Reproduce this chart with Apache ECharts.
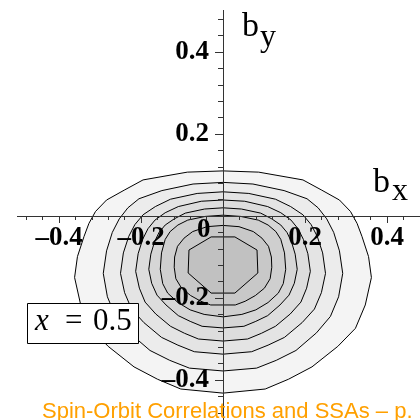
<!DOCTYPE html>
<html>
<head>
<meta charset="utf-8">
<script src="https://cdn.jsdelivr.net/npm/echarts@6/dist/echarts.min.js"></script>
<style>
  html, body { margin: 0; padding: 0; background: #fff; }
  #chart { width: 420px; height: 420px; }
</style>
</head>
<body>
<div id="chart"></div>
<script>
// Transverse impact-parameter density at x = 0.5: eight contour levels,
// each given as its right half [b_x, b_y], from the top crossing of the
// b_y axis down to the bottom crossing. The contours are mirror-symmetric in b_x.
const contour1 = [[0, 0.110], [0.087, 0.107], [0.195, 0.088], [0.241, 0.063], [0.284, 0.039], [0.311, 0.011], [0.327, -0.018], [0.339, -0.050], [0.355, -0.099], [0.362, -0.150], [0.347, -0.217], [0.323, -0.274], [0.280, -0.318], [0.217, -0.368], [0.160, -0.398], [0.103, -0.422], [0, -0.432]];
const contour2 = [[0, 0.082], [0.073, 0.078], [0.149, 0.062], [0.205, 0.042], [0.232, 0.020], [0.253, -0.007], [0.270, -0.040], [0.284, -0.085], [0.292, -0.140], [0.282, -0.197], [0.262, -0.245], [0.228, -0.285], [0.178, -0.328], [0.130, -0.352], [0.082, -0.371], [0, -0.378]];
const contour3 = [[0, 0.059], [0.063, 0.055], [0.128, 0.041], [0.165, 0.023], [0.195, 0.003], [0.215, -0.021], [0.230, -0.050], [0.243, -0.090], [0.250, -0.140], [0.240, -0.187], [0.223, -0.227], [0.193, -0.260], [0.150, -0.296], [0.110, -0.315], [0.070, -0.331], [0, -0.337]];
const contour4 = [[0, 0.039], [0.053, 0.036], [0.109, 0.023], [0.141, 0.008], [0.166, -0.010], [0.183, -0.031], [0.196, -0.057], [0.207, -0.092], [0.213, -0.135], [0.204, -0.176], [0.190, -0.210], [0.164, -0.239], [0.128, -0.269], [0.094, -0.286], [0.060, -0.300], [0, -0.305]];
const contour5 = [[0, 0.020], [0.045, 0.017], [0.092, 0.007], [0.119, -0.007], [0.141, -0.022], [0.156, -0.040], [0.167, -0.063], [0.176, -0.093], [0.181, -0.130], [0.174, -0.164], [0.161, -0.193], [0.139, -0.217], [0.109, -0.243], [0.080, -0.257], [0.051, -0.269], [0, -0.273]];
const contour6 = [[0, 0.002], [0.043, -0.001], [0.086, -0.010], [0.110, -0.022], [0.129, -0.038], [0.141, -0.057], [0.150, -0.090], [0.153, -0.130], [0.147, -0.165], [0.135, -0.188], [0.110, -0.211], [0.080, -0.229], [0.046, -0.240], [0, -0.246]];
const contour7 = [[0, -0.023], [0.039, -0.026], [0.074, -0.038], [0.095, -0.054], [0.111, -0.074], [0.118, -0.100], [0.119, -0.125], [0.115, -0.153], [0.101, -0.176], [0.079, -0.194], [0.054, -0.208], [0.030, -0.217], [0, -0.217]];
const contour8 = [[0, -0.051], [0.029, -0.051], [0.083, -0.083], [0.085, -0.139], [0.029, -0.188], [0, -0.188]];

const contours = [contour1, contour2, contour3, contour4, contour5, contour6, contour7, contour8];
// Gray shade filling each level, lightest outside
const levelShades = ['#f4f4f4', '#ececec', '#e4e4e4', '#dddddd', '#d6d6d6', '#cfcfcf', '#c8c8c8', '#c1c1c1'];

// Axis ticks: labelled every 0.2, minor every 0.04
const axisMin = -0.6, axisMax = 0.6, majorStep = 0.2, minorSplit = 5;

const labelFont = 'Liberation Serif';
const fmt = v => {
  v = Number(v);
  if (Math.abs(v) < 1e-9 || Math.abs(v) > 0.5) return '';
  return (Math.round(v * 10) / 10).toFixed(1).replace('-', '\u2013');
};

// Full closed outline of a level: right half then mirrored left half
function outline(half) {
  const pts = half.slice();
  for (let i = half.length - 1; i >= 0; i--) {
    if (half[i][0] !== 0) pts.push([-half[i][0], half[i][1]]);
  }
  return pts;
}

const axisColor = '#333';
// Plot area: b = 0 sits at (223, 216), 410 px per unit
const gridLeft = -23, gridTop = -30, gridSize = 492;
const zeroShift = -gridSize / 2;   // moves each axis from the grid edge onto b = 0

const chart = echarts.init(document.getElementById('chart'), null, { renderer: 'canvas' });
chart.setOption({
  animation: false,
  backgroundColor: '#fff',
  grid: { left: gridLeft, top: gridTop, width: gridSize, height: gridSize, containLabel: false, outerBoundsMode: 'none' },
  xAxis: {
    type: 'value', min: axisMin, max: axisMax, interval: majorStep, z: 5,
    position: 'bottom', offset: zeroShift,
    axisLine: { onZero: false, lineStyle: { color: axisColor, width: 1 } },
    axisTick: { show: true, length: 7, lineStyle: { color: axisColor } },
    minorTick: { show: true, splitNumber: minorSplit, length: 4, lineStyle: { color: axisColor } },
    splitLine: { show: false }, minorSplitLine: { show: false },
    axisLabel: { formatter: fmt, fontFamily: labelFont, fontWeight: 'bold', fontSize: 27, color: '#000', margin: 9, lineHeight: 27, hideOverlap: false }
  },
  yAxis: {
    type: 'value', min: axisMin, max: axisMax, interval: majorStep, z: 5,
    position: 'left', offset: zeroShift,
    axisLine: { onZero: false, lineStyle: { color: axisColor, width: 1 } },
    axisTick: { show: true, length: 8, lineStyle: { color: axisColor } },
    minorTick: { show: true, splitNumber: minorSplit, length: 5, lineStyle: { color: axisColor } },
    splitLine: { show: false }, minorSplitLine: { show: false },
    axisLabel: { formatter: fmt, fontFamily: labelFont, fontWeight: 'bold', fontSize: 27, color: '#000', margin: 14, lineHeight: 27, padding: [5, 0, 0, 0], hideOverlap: false }
  },
  series: [{
    type: 'custom',
    coordinateSystem: 'cartesian2d',
    z: 2,
    silent: true,
    data: contours.map((c, i) => [c[0][0], c[0][1], i]),
    encode: { x: 0, y: 1 },
    renderItem: function (params, api) {
      const lvl = api.value(2);
      const pts = outline(contours[lvl]).map(p => api.coord(p));
      return {
        type: 'polygon',
        shape: { points: pts },
        style: { fill: levelShades[lvl], stroke: '#000', lineWidth: 1 }
      };
    }
  }],
  graphic: [
    // the axis lines stop short of the page edges (b = -0.5 on the left, b = 0.5 at the top)
    { type: 'rect', z: 15, shape: { x: 0, y: 208, width: 17, height: 14 }, style: { fill: '#fff' } },
    { type: 'rect', z: 15, shape: { x: 214, y: 0, width: 14, height: 10 }, style: { fill: '#fff' } },
    { type: 'text', z: 20, left: 197, top: 217, style: { text: '0', font: 'bold 27px "Liberation Serif"', fill: '#000' } },
    { type: 'text', z: 20, left: 242, top: 10, style: { text: 'b', font: '34px "Liberation Serif"', fill: '#000' } },
    { type: 'text', z: 20, left: 260, top: 22, style: { text: 'y', font: '32px "Liberation Serif"', fill: '#000' } },
    { type: 'text', z: 20, left: 373, top: 166, style: { text: 'b', font: '34px "Liberation Serif"', fill: '#000' } },
    { type: 'text', z: 20, left: 392, top: 176, style: { text: 'x', font: '32px "Liberation Serif"', fill: '#000' } },
    { type: 'rect', z: 20, shape: { x: 27.5, y: 303.5, width: 111, height: 40 }, style: { fill: '#fff', stroke: '#000', lineWidth: 1 } },
    { type: 'text', z: 21, left: 35, top: 306, style: { text: 'x', font: 'italic 31px "Liberation Serif"', fill: '#000' } },
    { type: 'text', z: 21, left: 65, top: 306, style: { text: '=', font: '31px "Liberation Serif"', fill: '#000' } },
    { type: 'text', z: 21, left: 93, top: 306, style: { text: '0.5', font: '31px "Liberation Serif"', fill: '#000' } },
    { type: 'text', z: 30, left: 42, top: 401, style: { text: 'Spin-Orbit Correlations and SSAs \u2013 p.', font: '22px "Liberation Sans"', fill: '#ffa000' } }
  ]
});
</script>
</body>
</html>
